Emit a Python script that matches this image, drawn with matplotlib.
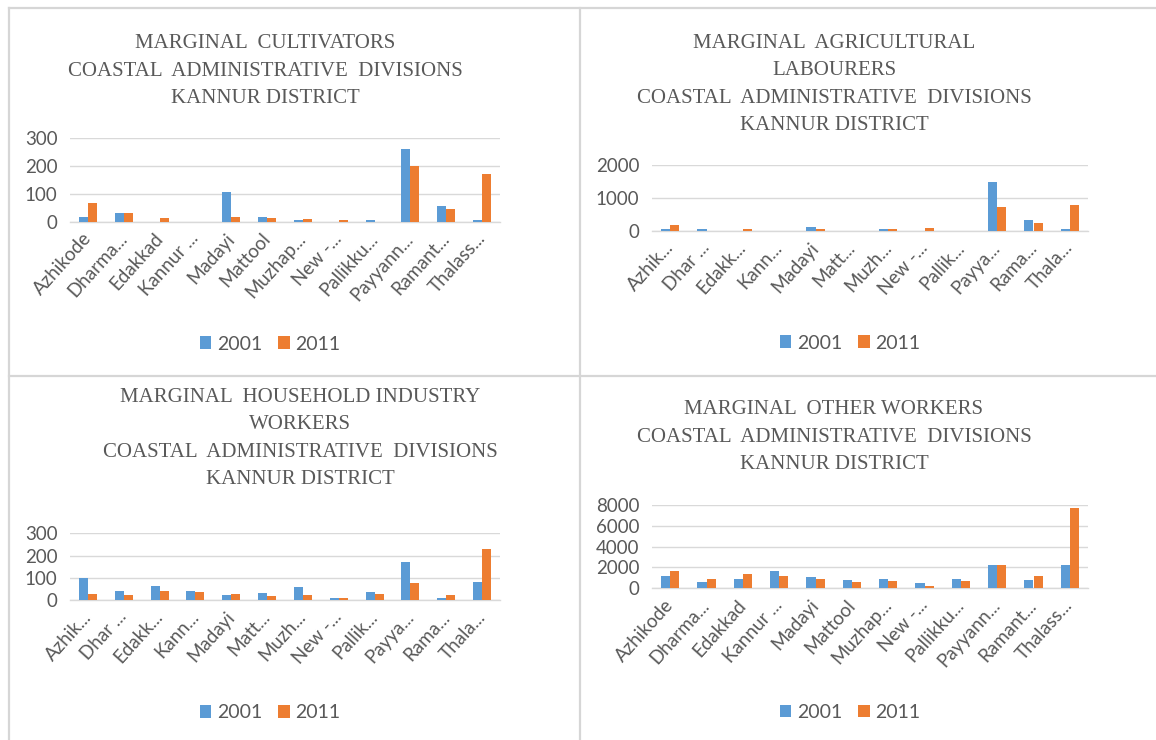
import matplotlib
matplotlib.use("Agg")
import matplotlib.pyplot as plt
from matplotlib.lines import Line2D
from matplotlib.patches import Patch
import numpy as np

# ---------------- data ----------------
labels_long = ["Azhikode", "Dharma...", "Edakkad", "Kannur ...", "Madayi", "Mattool",
               "Muzhap...", "New -...", "Pallikku...", "Payyann...", "Ramant...", "Thalass..."]
labels_short = ["Azhik...", "Dhar ...", "Edakk...", "Kann...", "Madayi", "Matt...",
                "Muzh...", "New -...", "Pallik...", "Payya...", "Rama...", "Thala..."]

cult_2001 = [18, 30, 0, 0, 107, 18, 6, 0, 5, 258, 56, 5]
cult_2011 = [68, 30, 14, 0, 18, 14, 10, 6, 0, 200, 46, 169]

agri_2001 = [50, 40, 0, 0, 120, 0, 40, 0, 0, 1470, 315, 40]
agri_2011 = [183, 0, 40, 0, 50, 0, 40, 80, 0, 710, 223, 780]

hh_2001 = [99, 42, 62, 42, 21, 31, 57, 7, 37, 170, 7, 82]
hh_2011 = [25, 22, 42, 37, 25, 16, 21, 7, 27, 78, 21, 230]

oth_2001 = [1216, 576, 896, 1664, 1120, 800, 928, 480, 928, 2240, 800, 2240]
oth_2011 = [1664, 928, 1344, 1216, 928, 576, 704, 256, 704, 2240, 1216, 7740]

series_names = ["2001", "2011"]

titles = [
    "MARGINAL  CULTIVATORS\nCOASTAL  ADMINISTRATIVE  DIVISIONS\nKANNUR DISTRICT",
    "MARGINAL  AGRICULTURAL\nLABOURERS\nCOASTAL  ADMINISTRATIVE  DIVISIONS\nKANNUR DISTRICT",
    "MARGINAL  HOUSEHOLD INDUSTRY\nWORKERS\nCOASTAL  ADMINISTRATIVE  DIVISIONS\nKANNUR DISTRICT",
    "MARGINAL  OTHER WORKERS\nCOASTAL  ADMINISTRATIVE  DIVISIONS\nKANNUR DISTRICT",
]

# ---------------- style ----------------
W, H = 1156, 740
C1, C2 = "#5B9BD5", "#ED7D31"
GRID = "#D9D9D9"
TXT = "#595959"
SANS = ["Lato", "DejaVu Sans"]
SERIF = ["Liberation Serif", "DejaVu Serif"]

fig = plt.figure(figsize=(W / 100, H / 100), dpi=100)
fig.patch.set_facecolor("white")


def px_axes(l, r, t, b):
    return fig.add_axes([l / W, 1 - b / H, (r - l) / W, (b - t) / H])


panels = [
    dict(box=(70, 500, 137.7, 221.7), v=(cult_2001, cult_2011), lab=labels_long,
         ylim=300, ticks=[0, 100, 200, 300], title=(265, 71), leg=(270, 344)),
    dict(box=(652, 1088, 165, 230.7), v=(agri_2001, agri_2011), lab=labels_short,
         ylim=2000, ticks=[0, 1000, 2000], title=(834, 84.5), leg=(850, 343)),
    dict(box=(70, 500, 533.3, 600), v=(hh_2001, hh_2011), lab=labels_short,
         ylim=300, ticks=[0, 100, 200, 300], title=(300, 438.5), leg=(270, 713)),
    dict(box=(652, 1088, 505, 588.3), v=(oth_2001, oth_2011), lab=labels_long,
         ylim=8000, ticks=[0, 2000, 4000, 6000, 8000], title=(834, 437), leg=(850, 712.5)),
]

for p, title in zip(panels, titles):
    ax = px_axes(*p["box"])
    x = np.arange(len(p["lab"]))
    bw = 0.25
    ax.bar(x - bw / 2, p["v"][0], width=bw, color=C1, zorder=3)
    ax.bar(x + bw / 2, p["v"][1], width=bw, color=C2, zorder=3)
    ax.set_xlim(-0.5, len(p["lab"]) - 0.5)
    ax.set_ylim(0, p["ylim"])
    ax.set_yticks(p["ticks"])
    ax.set_yticklabels([str(t) for t in p["ticks"]])
    ax.set_xticks(x)
    ax.set_xticklabels(p["lab"], rotation=48, ha="right", va="center",
                       rotation_mode="anchor")
    for s in ["top", "right", "left"]:
        ax.spines[s].set_visible(False)
    ax.spines["bottom"].set_color(GRID)
    ax.spines["bottom"].set_linewidth(1.0)
    ax.yaxis.grid(True, color=GRID, linewidth=1.0, zorder=0)
    ax.set_axisbelow(True)
    ax.tick_params(axis="both", length=0, colors=TXT, labelsize=13.5)
    ax.tick_params(axis="y", pad=9)
    ax.tick_params(axis="x", pad=10)
    for t in ax.get_xticklabels() + ax.get_yticklabels():
        t.set_family(SANS)
    fig.text(p["title"][0] / W, 1 - p["title"][1] / H, title, ha="center", va="center",
             multialignment="center", fontsize=15.0, family=SERIF, color=TXT,
             linespacing=1.6)
    handles = [Patch(facecolor=C1, edgecolor="none"), Patch(facecolor=C2, edgecolor="none")]
    fig.legend(handles, series_names, loc="center",
               bbox_to_anchor=(p["leg"][0] / W, 1 - p["leg"][1] / H),
               ncol=2, frameon=False, handlelength=0.6, handleheight=0.6,
               handletextpad=0.3, columnspacing=0.8,
               prop={"family": SANS, "size": 14}, labelcolor=TXT)

# panel borders
BC = "#D6D6D6"
lw = 1.6
def fline(x0, y0, x1, y1):
    fig.add_artist(Line2D([x0 / W, x1 / W], [1 - y0 / H, 1 - y1 / H], color=BC,
                          linewidth=lw, transform=fig.transFigure))

fline(9, 8, W, 8)
fline(9, 8, 9, H)
fline(580, 8, 580, H)
fline(9, 376, W, 376)

fig.savefig("out.png", dpi=100, facecolor="white")
